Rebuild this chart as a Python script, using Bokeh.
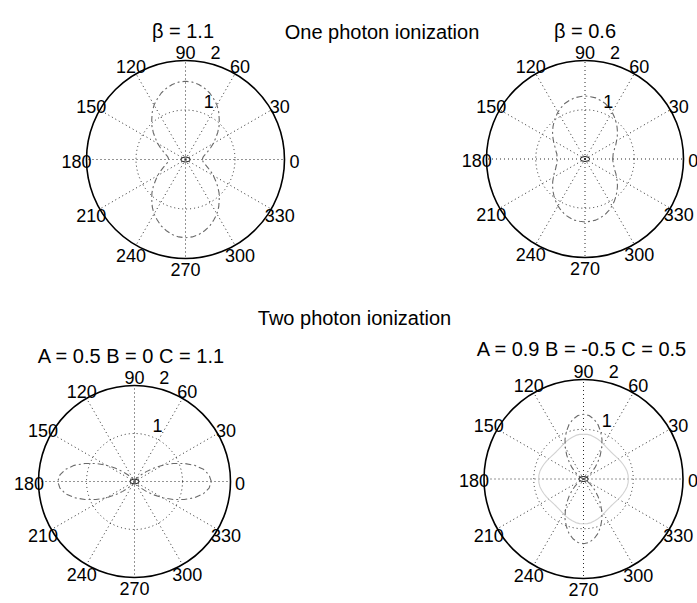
import numpy as np
from bokeh.plotting import figure
from bokeh.models import Range1d
from bokeh.embed import file_html
from bokeh.resources import INLINE
from bokeh.core.properties import value

FONT = value("Liberation Sans")

# polar angle samples (degrees)
angles_deg = list(range(0, 361, 5))

# radius readings for one quarter turn (0..90 deg, step 5); curves are symmetric
beta_11_q = [0.34, 0.35, 0.37, 0.42, 0.48, 0.56, 0.65, 0.74, 0.85, 0.96,
             1.06, 1.17, 1.27, 1.35, 1.43, 1.49, 1.54, 1.57, 1.58]
beta_06_q = [0.56, 0.57, 0.58, 0.61, 0.64, 0.69, 0.74, 0.80, 0.86, 0.92,
             0.98, 1.04, 1.10, 1.15, 1.20, 1.23, 1.26, 1.27, 1.28]
two_a_q = [1.60, 1.56, 1.46, 1.30, 1.10, 0.89, 0.68, 0.48, 0.32, 0.20,
           0.11, 0.06, 0.025, 0.01, 0.0, 0.0, 0.0, 0.0, 0.0]
two_b_dark_q = [0.0, 0.0, 0.0, 0.01, 0.02, 0.04, 0.08, 0.14, 0.22, 0.33,
                0.45, 0.59, 0.73, 0.88, 1.01, 1.13, 1.22, 1.28, 1.30]
two_b_light_q = [0.90, 0.90, 0.89, 0.87, 0.85, 0.83, 0.81, 0.79, 0.78, 0.775,
                 0.78, 0.79, 0.81, 0.83, 0.85, 0.87, 0.89, 0.90, 0.90]
center_loop_q = [0.09, 0.09, 0.088, 0.085, 0.08, 0.076, 0.072, 0.067, 0.063, 0.06,
                 0.057, 0.055, 0.053, 0.052, 0.051, 0.05, 0.05, 0.05, 0.05]

angle_ticks = [0, 30, 60, 90, 120, 150, 180, 210, 240, 270, 300, 330]
radius_ticks = [1, 2]
r_max = 2

titles = ["\u03b2 = 1.1", "\u03b2 = 0.6", "A = 0.5 B = 0 C = 1.1", "A = 0.9 B = -0.5 C = 0.5"]
headings = ["One photon ionization", "Two photon ionization"]


def full(q):
    return q + q[-2::-1] + q[1:] + q[-2::-1]


DARK = "#6a6a6a"
LIGHT = "#d2d2d2"
GRID = "#2a2a2a"

panels = [
    dict(cx=185, cy=159, R=99, tx=182.5, ty=30, title=titles[0],
         curves=[(beta_11_q, DARK, "6 3 2 3"), (center_loop_q, "#333333", "solid")]),
    dict(cx=584.5, cy=158.5, R=98.5, tx=584.5, ty=30, title=titles[1],
         curves=[(beta_06_q, DARK, "6 3 2 3"), (center_loop_q, "#333333", "solid")]),
    dict(cx=134, cy=481, R=96, tx=131, ty=355, title=titles[2],
         curves=[(two_a_q, DARK, "6 3 2 3"), (center_loop_q, "#333333", "solid")]),
    dict(cx=583, cy=478.5, R=99.5, tx=581.5, ty=348, title=titles[3],
         curves=[(two_b_light_q, LIGHT, "solid"), (two_b_dark_q, DARK, "6 3 2 3"),
                 (center_loop_q, "#333333", "solid")]),
]

W, H = 697, 603
p = figure(width=W, height=H, output_backend="svg", toolbar_location=None,
           x_range=Range1d(0, W), y_range=Range1d(H, 0),
           min_border=0, outline_line_color=None)
p.axis.visible = False
p.grid.visible = False
p.background_fill_color = "white"

th_all = np.radians(np.array(angles_deg, dtype=float))

for pn in panels:
    cx, cy, R = pn["cx"], pn["cy"], pn["R"]
    s = R / r_max
    # dotted spokes
    for a in angle_ticks:
        t = np.radians(a)
        p.segment(x0=[cx], y0=[cy], x1=[cx + R * np.cos(t)], y1=[cy - R * np.sin(t)],
                  line_color=GRID, line_dash="1 3", line_width=1)
    # dotted inner circle(s)
    for rt in radius_ticks[:-1]:
        p.circle(x=[cx], y=[cy], radius=rt * s, fill_color=None,
                 line_color=GRID, line_dash="1 3", line_width=1)
    # outer solid circle
    p.circle(x=[cx], y=[cy], radius=R, fill_color=None, line_color="black", line_width=1.6)
    # curves
    for q, col, dash in pn["curves"]:
        r = np.array(full(q))
        xs = cx + r * s * np.cos(th_all)
        ys = cy - r * s * np.sin(th_all)
        p.line(xs, ys, line_color=col, line_dash=dash, line_width=1.1)
    # angle labels
    lx = [cx + 1.1 * R * np.cos(np.radians(a)) for a in angle_ticks]
    ly = [cy - 1.1 * R * np.sin(np.radians(a)) + 1.5 for a in angle_ticks]
    p.text(x=lx, y=ly, text=[str(a) for a in angle_ticks], text_font=FONT,
           text_font_size="18px", text_align="center", text_baseline="middle",
           text_color="black")
    # radius labels
    t82 = np.radians(82)
    rx = [cx + (rt + 0.05) * s * np.cos(t82) for rt in radius_ticks]
    ry = [cy - (rt + 0.05) * s * np.sin(t82) for rt in radius_ticks]
    p.text(x=rx, y=ry, text=[str(rt) for rt in radius_ticks], text_font=FONT,
           text_font_size="18px", text_align="left", text_baseline="bottom",
           x_offset=11, text_color="black")
    # panel title
    p.text(x=[pn["tx"]], y=[pn["ty"]], text=[pn["title"]], text_font=FONT,
           text_font_size="20px", text_align="center", text_baseline="alphabetic",
           text_color="black")

p.text(x=[381.5, 354], y=[31, 317], text=headings, text_font=FONT,
       text_font_size="20px", text_align="center", text_baseline="alphabetic",
       text_color="black")

open("out.html", "w").write(file_html(p, INLINE))
